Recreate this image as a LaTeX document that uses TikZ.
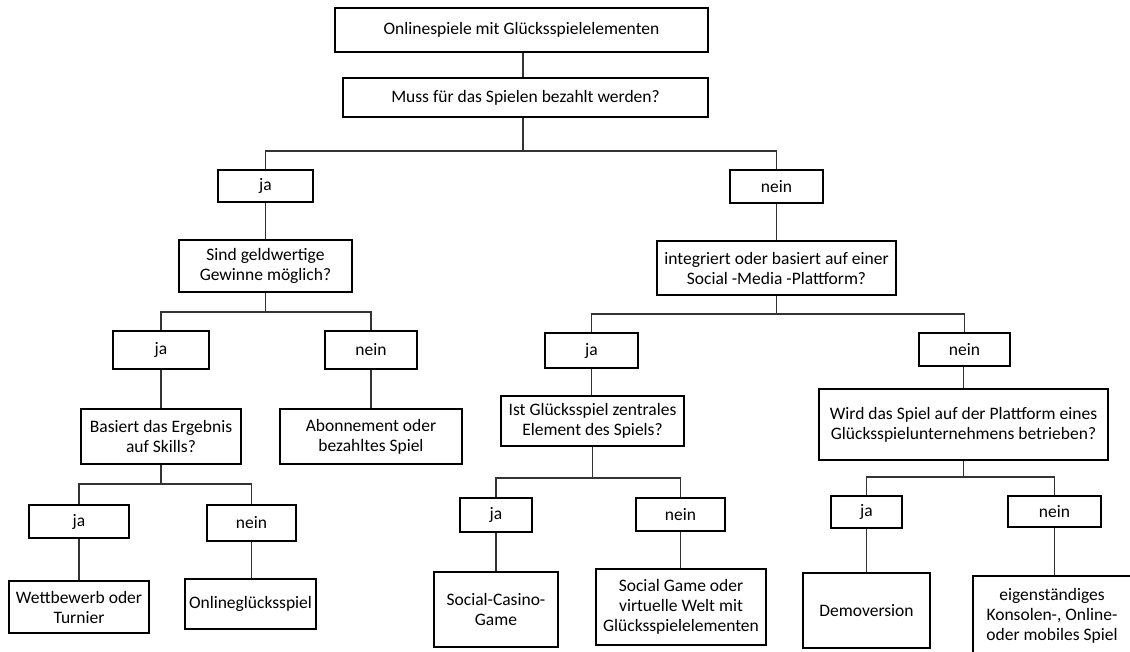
\documentclass[tikz,border=0pt]{standalone}
\usepackage{fontspec}
\setmainfont{Carlito}
\begin{document}
\begin{tikzpicture}[x=1pt,y=-1pt,
  box/.style={draw=black, line width=1.9pt, align=center, inner sep=0pt, font=\fontsize{17.5}{20}\selectfont},
  conn/.style={draw=black!80, line width=1.9pt}]
\useasboundingbox (0,0) rectangle (1130,652);
\clip (0,0) rectangle (1130,652);
\fill[white] (0,0) rectangle (1130,652);
% level 0
\node[box, minimum width=373, minimum height=44] (top) at (521.5,30) {Onlinespiele mit Glücksspielelementen};
\node[box, minimum width=365, minimum height=39] (q1) at (525.5,97.5) {Muss für das Spielen bezahlt werden?};
% level 1
\node[box, minimum width=95, minimum height=32] (ja1) at (265.5,186) {ja};
\node[box, minimum width=93, minimum height=33] (nein1) at (776.5,186.5) {nein};
\node[box, minimum width=173, minimum height=52] (q2) at (265.5,266) {Sind geldwertige\\Gewinne möglich?};
\node[box, minimum width=239, minimum height=54] (q3) at (776.5,268) {integriert oder basiert auf einer\\Social -Media -Plattform?};
% left level 2
\node[box, minimum width=96, minimum height=38] (ja2) at (161,350) {ja};
\node[box, minimum width=92, minimum height=38] (nein2) at (371,350) {nein};
\node[box, minimum width=160, minimum height=55] (q4) at (161,436.5) {Basiert das Ergebnis\\auf Skills?};
\node[box, minimum width=182, minimum height=55] (abo) at (371,436.5) {Abonnement oder\\bezahltes Spiel};
\node[box, minimum width=100, minimum height=33] (ja3) at (79,521.5) {ja};
\node[box, minimum width=89, minimum height=36] (nein3) at (251.5,523) {nein};
\node[box, minimum width=140, minimum height=52] (wett) at (79,607) {Wettbewerb oder\\Turnier};
\node[box, minimum width=131, minimum height=50] (ogs) at (250.5,604) {Onlineglücksspiel};
% right level 2
\node[box, minimum width=93, minimum height=35] (ja4) at (591.5,350.5) {ja};
\node[box, minimum width=91, minimum height=33] (nein4) at (964.5,349.5) {nein};
\node[box, minimum width=183, minimum height=50] (q5) at (592.5,421) {Ist Glücksspiel zentrales\\Element des Spiels?};
\node[box, minimum width=289, minimum height=71] (q6) at (963.5,424.5) {Wird das Spiel auf der Plattform eines\\Glücksspielunternehmens betrieben?};
\node[box, minimum width=72, minimum height=34] (ja5) at (496,515) {ja};
\node[box, minimum width=89, minimum height=33] (nein5) at (680.5,514.5) {nein};
\node[box, minimum width=124, minimum height=75] (scg) at (496,609.5) {Social-Casino-\\Game};
\node[box, minimum width=170, minimum height=76] (sg) at (681,607) {Social Game oder\\virtuelle Welt mit\\Glücksspielelementen};
\node[box, minimum width=71, minimum height=32] (ja6) at (866.5,512) {ja};
\node[box, minimum width=93, minimum height=31] (nein6) at (1054.5,511.5) {nein};
\node[box, minimum width=127, minimum height=75] (demo) at (866.5,610.5) {Demoversion};
\node[box, minimum width=158, minimum height=80] (eig) at (1052,616) {eigenständiges\\Konsolen-, Online-\\oder mobiles Spiel};
% connectors
\coordinate (b1) at (523,151);
\draw[conn] (top.south -| b1) -- (q1.north -| b1);
\draw[conn] (q1.south -| b1) -- (b1);
\draw[conn] (b1) -| (ja1.north);
\draw[conn] (b1) -| (nein1.north);
\draw[conn] (ja1) -- (q2);
\draw[conn] (nein1) -- (q3);
\coordinate (b2) at (265.5,312);
\draw[conn] (q2.south) -- (b2);
\draw[conn] (b2) -| (ja2.north);
\draw[conn] (b2) -| (nein2.north);
\draw[conn] (ja2) -- (q4);
\draw[conn] (nein2) -- (abo);
\coordinate (b3) at (161,484);
\draw[conn] (q4.south) -- (b3);
\draw[conn] (b3) -| (ja3.north);
\draw[conn] (b3) -| (nein3.north);
\draw[conn] (ja3) -- (wett);
\draw[conn] (nein3) -- (ogs.north -| nein3);
\coordinate (b4) at (776.5,314);
\draw[conn] (q3.south) -- (b4);
\draw[conn] (b4) -| (ja4.north);
\draw[conn] (b4) -| (nein4.north);
\draw[conn] (ja4) -- (q5.north -| ja4);
\draw[conn] (nein4.south -| q6) -- (q6);
\coordinate (b5) at (592.5,478);
\draw[conn] (q5.south) -- (b5);
\draw[conn] (b5) -| (ja5.north);
\draw[conn] (b5) -| (nein5.north);
\draw[conn] (ja5) -- (scg);
\draw[conn] (nein5.south) -- (sg.north -| nein5);
\coordinate (b6) at (963.5,477);
\draw[conn] (q6.south) -- (b6);
\draw[conn] (b6) -| (ja6.north);
\draw[conn] (b6) -| (nein6.north);
\draw[conn] (ja6) -- (demo);
\draw[conn] (nein6.south) -- (eig.north -| nein6);
\end{tikzpicture}
\end{document}
